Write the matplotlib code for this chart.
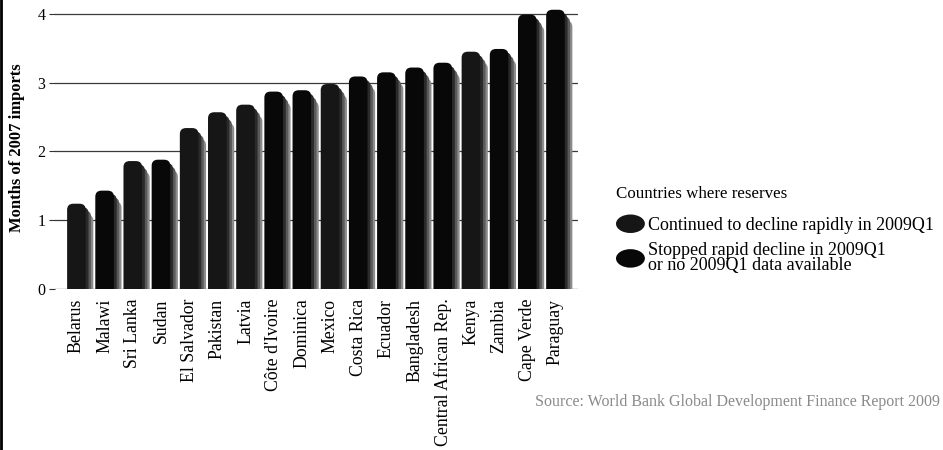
import matplotlib
matplotlib.use("Agg")
import matplotlib.pyplot as plt
import matplotlib.patches as mpatches
from matplotlib.legend_handler import HandlerPatch
from matplotlib.lines import Line2D

countries = ["Belarus", "Malawi", "Sri Lanka", "Sudan", "El Salvador", "Pakistan",
             "Latvia", "Côte d'Ivoire", "Dominica", "Mexico", "Costa Rica", "Ecuador",
             "Bangladesh", "Central African Rep.", "Kenya", "Zambia", "Cape Verde", "Paraguay"]
months = [1.24, 1.43, 1.86, 1.88, 2.34, 2.57, 2.68, 2.87, 2.89, 2.98, 3.09, 3.15,
          3.22, 3.29, 3.45, 3.49, 3.99, 4.06]
# 1 = continued to decline rapidly in 2009Q1, 0 = stopped / no data
still_declining = [1, 0, 1, 0, 1, 1, 1, 0, 0, 1, 0, 0, 0, 0, 1, 0, 0, 0]
legend_title = "Countries where reserves"
legend_labels = ["Continued to decline rapidly in 2009Q1",
                 "Stopped rapid decline in 2009Q1\nor no 2009Q1 data available"]
yticks = [0, 1, 2, 3, 4]
ylabel = "Months of 2007 imports"
source = "Source: World Bank Global Development Finance Report 2009"

group_colors = {1: "#161616", 0: "#080808"}

plt.rcParams["font.family"] = ["Liberation Serif", "DejaVu Serif"]

fig = plt.figure(figsize=(9.43, 4.5), dpi=100)
ax = fig.add_axes([55 / 943, 161 / 450, 523 / 943, 282 / 450])

x = list(range(len(countries)))
body_w = 0.66
colors = [group_colors[g] for g in still_declining]


def rounded(r, color, drop, z):
    p = mpatches.FancyBboxPatch((r.get_x(), -0.3), r.get_width(), r.get_height() + 0.3 - drop,
                                boxstyle="round,pad=0,rounding_size=0.22",
                                mutation_aspect=0.4, facecolor=color, edgecolor="none",
                                zorder=z)
    ax.add_patch(p)
    r.set_visible(False)


# soft shadows to the right of each bar
for off, col, dh in [(0.27, "#8c8c8c", 0.16), (0.19, "#5a5a5a", 0.10), (0.10, "#2a2a2a", 0.05)]:
    sh = ax.bar([xi + off for xi in x], months, width=body_w, color=col, zorder=2)
    for r in sh:
        rounded(r, col, dh, 2)

bars = ax.bar(x, months, width=body_w, color=colors, zorder=3)
for r, c in zip(bars, colors):
    rounded(r, c, 0, 3)

ax.set_xlim(-0.76, 17.8)
ax.set_ylim(0, 4.1)
ax.set_yticks(yticks)
ax.set_yticklabels([str(t) for t in yticks], fontsize=11.5)
ax.set_xticks(x)
ax.set_xticklabels(countries, rotation=90, fontsize=12.8, va="top", ha="center")
ax.tick_params(axis="x", length=0, pad=7)
ax.tick_params(axis="y", length=4, width=0.8, color="#333333", pad=3)
ax.yaxis.grid(True, color="#3a3a3a", linewidth=0.9)
ax.set_axisbelow(True)
for s in ax.spines.values():
    s.set_visible(False)

ax.set_ylabel(ylabel, fontsize=12, fontweight="bold")
ax.yaxis.set_label_coords(-0.058, 0.5)


# legend with rounded swatches
def blob(legend, orig_handle, xdescent, ydescent, width, height, fontsize):
    return mpatches.Ellipse((width / 2 - xdescent, height / 2 - ydescent), width, height)


handles = [mpatches.Patch(facecolor=group_colors[1]), mpatches.Patch(facecolor=group_colors[0])]
leg = fig.legend(handles, legend_labels, title=legend_title, loc="upper left",
                 bbox_to_anchor=(616 / 943, 1 - 186 / 450), frameon=False,
                 fontsize=13, title_fontsize=12.2, alignment="left",
                 handlelength=1.6, handleheight=1.2, handletextpad=0.15,
                 labelspacing=0.45, borderpad=0, borderaxespad=0,
                 handler_map={mpatches.Patch: HandlerPatch(patch_func=blob)})
for t in leg.get_texts():
    t.set_linespacing(0.85)
leg.get_title().set_position((0, 0))
leg._legend_box.sep = 9

fig.text(940 / 943, 1 - 402 / 450, source, ha="right", va="center", fontsize=11.5,
         color="#8a8a8a")

fig.add_artist(Line2D([0.0012, 0.0012], [0, 1], transform=fig.transFigure,
                      color="black", linewidth=2))

fig.savefig("out.png", dpi=100)
